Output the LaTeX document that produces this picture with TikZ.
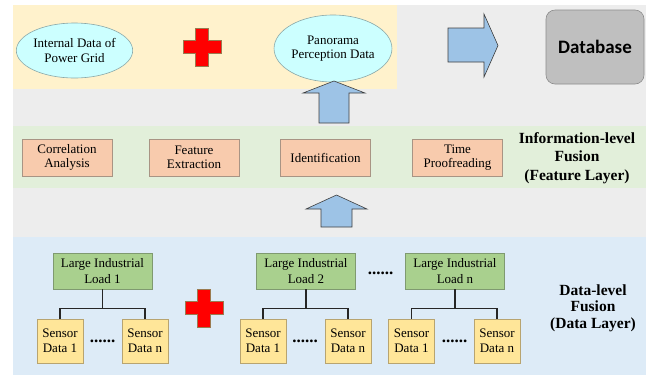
\documentclass[tikz,border=0pt]{standalone}
\usepackage{fontspec}
\setmainfont{Liberation Serif}
\newfontfamily\dbfont{Carlito}
\usetikzlibrary{shapes.geometric}

\definecolor{bandgray}{HTML}{EDEDED}
\definecolor{bandyellow}{HTML}{FFF2CC}
\definecolor{bandgreen}{HTML}{E2EFDA}
\definecolor{bandblue}{HTML}{DDEBF7}
\definecolor{ellfill}{HTML}{CCFFFF}
\definecolor{ellline}{HTML}{8AA8A8}
\definecolor{arrowfill}{HTML}{9DC3E6}
\definecolor{taskfill}{HTML}{F8CBAD}
\definecolor{taskline}{HTML}{A89484}
\definecolor{loadfill}{HTML}{A9D08E}
\definecolor{loadline}{HTML}{7F9A70}
\definecolor{sensfill}{HTML}{FFE699}
\definecolor{sensline}{HTML}{B8A470}
\definecolor{dbfill}{HTML}{BFBFBF}
\definecolor{dbline}{HTML}{8C8C8C}
\definecolor{crossline}{HTML}{9A7A50}

\tikzset{
  source/.style={ellipse, draw=ellline, fill=ellfill, line width=0.6pt, inner sep=0pt,
    align=center, font=\rmfamily\fontsize{13}{14.5}\selectfont},
  task/.style={rectangle, draw=taskline, fill=taskfill, line width=0.6pt,
    minimum width=90pt, minimum height=37pt, inner sep=0pt, align=center,
    font=\rmfamily\fontsize{13}{14}\selectfont},
  loadbox/.style={rectangle, draw=loadline, fill=loadfill, line width=0.6pt,
    minimum width=99pt, minimum height=36pt, inner sep=0pt, align=center,
    font=\rmfamily\fontsize{13}{16}\selectfont},
  sensbox/.style={rectangle, draw=sensline, fill=sensfill, line width=0.6pt,
    minimum width=46pt, minimum height=44pt, inner sep=0pt, align=center,
    font=\rmfamily\fontsize{13}{15}\selectfont},
  layerlabel/.style={align=center, inner sep=0pt},
  ellipsisdots/.style={anchor=base, inner sep=0pt, font=\bfseries\fontsize{17}{17}\selectfont},
  tree/.style={draw=black!85, line width=1.3pt},
  blockarrow/.style={draw=black!75, fill=arrowfill, line width=0.6pt, line join=miter},
  redcross/.pic={
    \draw[fill=red, draw=crossline, line width=0.5pt]
      (-19,-6.5) -- (-6.5,-6.5) -- (-6.5,-19) -- (6.5,-19) -- (6.5,-6.5) -- (19,-6.5)
      -- (19,6.5) -- (6.5,6.5) -- (6.5,19) -- (-6.5,19) -- (-6.5,6.5) -- (-19,6.5) -- cycle;
  }
}

\begin{document}
\begin{tikzpicture}[x=1pt, y=-1pt]
\useasboundingbox[fill=white] (0,0) rectangle (653,376);

% layer bands
\fill[bandgray]   (13,5)   rectangle (646,375);
\fill[bandyellow] (13,5)   rectangle (397,89);
\fill[bandgreen]  (13,126) rectangle (646,188);
\fill[bandblue]   (13,237) rectangle (646,375);

% top layer: data sources and database
\node[source, minimum width=107pt, minimum height=55pt] (grid) at (74.5,50.5)
  {Internal Data of\\Power Grid};
\node[source, minimum width=110pt, minimum height=67pt] (pano) at (333,48.5)
  {Panorama\\Perception Data};
\pic at (202,47) {redcross};

\draw[blockarrow] (448,28) -- (484,28) -- (484,14) -- (498,45.5) -- (484,77)
  -- (484,62) -- (448,62) -- cycle;

\node[rectangle, rounded corners=9pt, draw=dbline, fill=dbfill, line width=0.6pt,
  minimum width=98pt, minimum height=74pt, inner sep=0pt] (db) at (595,47)
  {\dbfont\bfseries\fontsize{19}{19}\selectfont Database};

% arrow from feature layer up to the perception data
\draw[blockarrow] (334,81) -- (365,93) -- (349,93) -- (349,123) -- (319,123)
  -- (319,93) -- (303,93) -- cycle;

% feature layer
\node[task] (corr) at (67,157.5)    {Correlation\\Analysis};
\node[task] (feat) at (194,157.5)   {Feature\\Extraction};
\node[task] (iden) at (325.5,157.5) {Identification};
\node[task] (time) at (457.5,157.5) {Time\\Proofreading};
\node[layerlabel, font=\bfseries\fontsize{15.5}{18.5}\selectfont] (info) at (577,158)
  {Information-level\\Fusion\\(Feature Layer)};

% arrow from data layer up to feature layer
\draw[blockarrow] (336.5,195) -- (367,209) -- (352,209) -- (352,227) -- (321,227)
  -- (321,209) -- (306,209) -- cycle;

% data layer: loads and their sensors
\node[loadbox] (L1) at (102.5,271) {Large Industrial\\Load 1};
\node[loadbox] (L2) at (306,271)   {Large Industrial\\Load 2};
\node[loadbox] (Ln) at (455,271)   {Large Industrial\\Load n};
\node[ellipsisdots] (dL) at (380.5,274.5) {......};

\node[sensbox] (S11) at (60,341)    {Sensor\\Data 1};
\node[sensbox] (S1n) at (145,341)   {Sensor\\Data n};
\node[sensbox] (S21) at (263,341)   {Sensor\\Data 1};
\node[sensbox] (S2n) at (348,341)   {Sensor\\Data n};
\node[sensbox] (Sn1) at (411.5,341) {Sensor\\Data 1};
\node[sensbox] (Snn) at (497,341)   {Sensor\\Data n};

\node[ellipsisdots] (d1) at (102.5,342.5) {......};
\node[ellipsisdots] (d2) at (305,342.5)   {......};
\node[ellipsisdots] (dn) at (454.5,342.5) {......};

\draw[tree] (L1.south) -- ++(0,19) coordinate (j1);
\draw[tree] (S11.north) |- (j1) -| (S1n.north);
\draw[tree] (L2.south) -- ++(0,19) coordinate (j2);
\draw[tree] (S21.north) |- (j2) -| (S2n.north);
\draw[tree] (Ln.south) -- ++(0,19) coordinate (jn);
\draw[tree] (Sn1.north) |- (jn) -| (Snn.north);

\pic at (204,308) {redcross};

\node[layerlabel, font=\bfseries\fontsize{15.5}{16.5}\selectfont] (datalbl) at (593,308)
  {Data-level\\Fusion\\(Data Layer)};
\end{tikzpicture}
\end{document}
